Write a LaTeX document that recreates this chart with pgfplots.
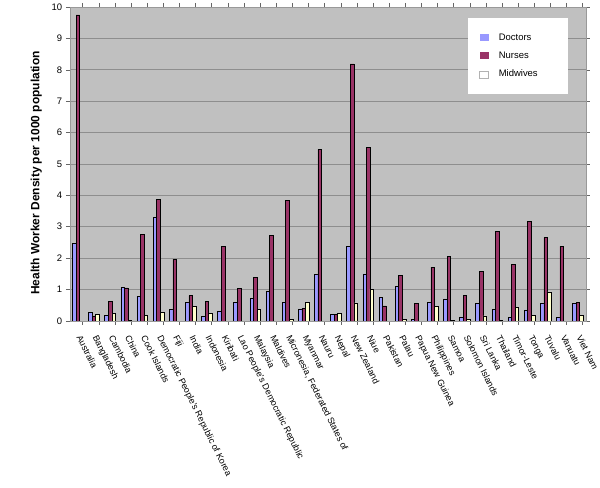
\documentclass[border=0pt]{standalone}
\usepackage{fontspec}
\setmainfont{Liberation Sans}
\usepackage{pgfplots}
\pgfplotsset{compat=1.18}
\usepackage{pgfplotstable}
\definecolor{docc}{HTML}{9999FF}
\definecolor{nurc}{HTML}{993366}
\definecolor{midc}{HTML}{FFFFCC}
\definecolor{bgc}{HTML}{C0C0C0}
\definecolor{gridc}{HTML}{8E8E8E}
\pgfplotstableread{
x D N M
0 2.46 9.75 nan
1 0.27 0.16 0.20
2 0.17 0.63 0.25
3 1.07 1.05 0.02
4 0.78 2.75 0.17
5 3.30 3.86 0.26
6 0.36 1.97 nan
7 0.60 0.80 0.47
8 0.15 0.63 0.23
9 0.32 2.38 nan
10 0.60 1.03 nan
11 0.71 1.39 0.36
12 0.94 2.72 nan
13 0.60 3.84 0.05
14 0.38 0.40 0.60
15 1.47 5.46 nan
16 0.20 0.21 0.23
17 2.37 8.19 0.57
18 1.50 5.52 1.01
19 0.75 0.48 nan
20 1.11 1.45 0.05
21 0.05 0.56 nan
22 0.58 1.71 0.46
23 0.70 2.05 0.02
24 0.13 0.81 0.05
25 0.55 1.58 0.16
26 0.37 2.84 0.02
27 0.10 1.80 0.43
28 0.35 3.17 0.18
29 0.56 2.65 0.92
30 0.11 2.37 nan
31 0.56 0.58 0.18
}\datatable
\begin{document}
\begin{tikzpicture}[x=1pt,y=1pt]
\path (0,0) rectangle (600,489);
\begin{axis}[
  at={(70pt,167pt)}, anchor=south west,
  scale only axis, width=518pt, height=315pt,
  xmin=-0.5, xmax=31.5, ymin=0, ymax=10,
  ybar=0pt, bar width=3.6pt,
  axis background/.style={fill=bgc},
  axis line style={draw=gray!80},
  ymajorgrids, grid style={draw=gridc, line width=0.6pt},
  ytick={0,1,...,10},
  tick align=outside, major tick length=4pt,
  tick style={draw=gray!80!black, line width=0.4pt},
  xtick={-0.7,0.3,...,31.3}, xticklabels={},
  extra x ticks={0,1,...,31},
  extra x tick style={major tick length=0pt},
  extra x tick labels={Australia,Bangladesh,Cambodia,China,Cook Islands,Democratic People's Republic of Korea,Fiji,India,Indonesia,Kiribati,Lao People's Democratic Republic,Malaysia,Maldives,{Micronesia, Federated States of},Myanmar,Nauru,Nepal,New Zealand,Niue,Pakistan,Palau,Papua New Guinea,Philippines,Samoa,Solomon Islands,Sri Lanka,Thailand,Timor-Leste,Tonga,Tuvalu,Vanuatu,Viet Nam},
  xticklabel style={xshift=5pt, yshift=-12pt, rotate=-63.5, anchor=north west, inner sep=1pt, font=\fontsize{9}{10}\selectfont},
  yticklabel style={font=\fontsize{9.5}{11}\selectfont},
  /pgf/number format/assume math mode=true,
  ylabel={Health Worker Density per 1000 population},
  ylabel style={font=\fontsize{12}{14}\selectfont\bfseries, xshift=-9pt, yshift=3pt},
  legend style={at={(0.772,0.965)}, anchor=north west, draw=none, fill=white,
    inner xsep=11pt, inner ysep=13.5pt, row sep=6.3pt,
    font=\fontsize{9.5}{11}\selectfont},
  legend cell align=left,
  legend image code/.code={\path[#1,draw=none] (0pt,-3.5pt) rectangle (9pt,3.5pt);},
]
\addplot[fill=docc, draw=black, line width=0.5pt] table[x=x,y=D] {\datatable};
\addlegendentry{\makebox[64pt][l]{\hspace{8pt}Doctors}}
\addplot[fill=nurc, draw=black, line width=0.5pt] table[x=x,y=N] {\datatable};
\addlegendentry{\makebox[64pt][l]{\hspace{8pt}Nurses}}
\addplot[fill=midc, draw=black, line width=0.5pt,
  legend image code/.code={\path[fill=white,draw=gray!60,line width=0.5pt] (0pt,-3.5pt) rectangle (9pt,3.5pt);}] table[x=x,y=M] {\datatable};
\addlegendentry{\makebox[64pt][l]{\hspace{8pt}Midwives}}
\end{axis}
\end{tikzpicture}
\end{document}
